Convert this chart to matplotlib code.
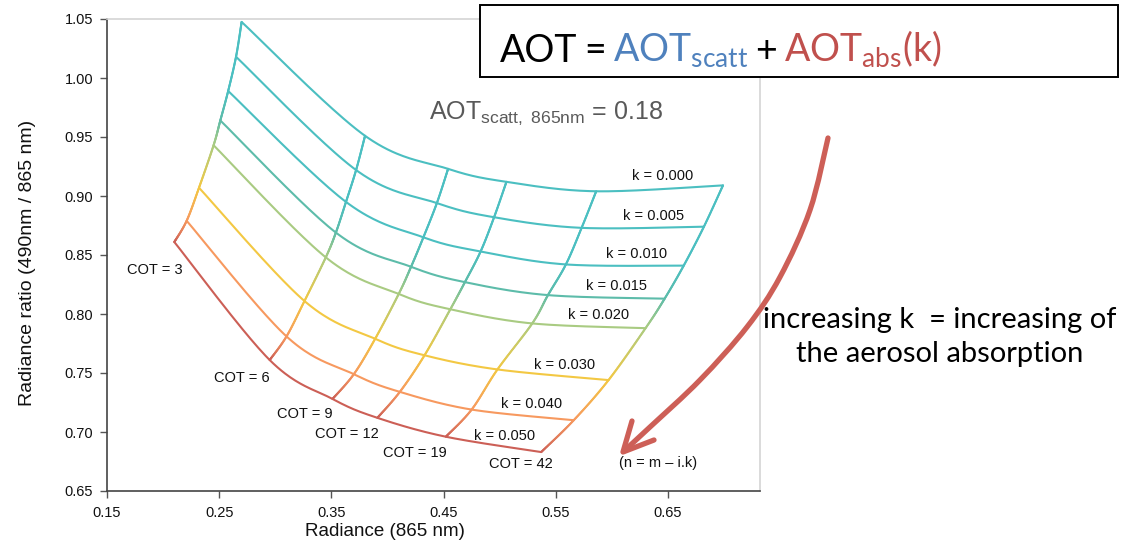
import numpy as np
import matplotlib
matplotlib.use("Agg")
import matplotlib.pyplot as plt
from matplotlib.bezier import BezierSegment
from matplotlib.collections import LineCollection
from matplotlib.patches import Rectangle, PathPatch
from matplotlib.path import Path
from matplotlib.colors import to_rgb

plt.rcParams['font.family'] = ['Liberation Sans', 'DejaVu Sans']

# Imaginary part of the refractive index (k) and cloud optical thickness (COT)
k_values = [0.000, 0.005, 0.010, 0.015, 0.020, 0.030, 0.040, 0.050]
cot_values = [3, 6, 9, 12, 19, 42]

# Radiance at 865 nm: one row per k, one column per COT
radiance_865 = [
    [0.270, 0.380, 0.454, 0.506, 0.586, 0.699],
    [0.265, 0.372, 0.444, 0.495, 0.573, 0.682],
    [0.258, 0.363, 0.432, 0.483, 0.559, 0.664],
    [0.251, 0.354, 0.421, 0.469, 0.543, 0.647],
    [0.245, 0.345, 0.410, 0.456, 0.529, 0.630],
    [0.232, 0.326, 0.389, 0.433, 0.498, 0.597],
    [0.221, 0.310, 0.370, 0.411, 0.475, 0.566],
    [0.210, 0.295, 0.351, 0.391, 0.452, 0.537],
]

# Radiance ratio 490 nm / 865 nm: one row per k, one column per COT
radiance_ratio = [
    [1.0475, 0.951, 0.923, 0.912, 0.904, 0.909],
    [1.018, 0.922, 0.894, 0.882, 0.873, 0.874],
    [0.989, 0.895, 0.865, 0.853, 0.842, 0.841],
    [0.964, 0.869, 0.840, 0.827, 0.816, 0.813],
    [0.943, 0.848, 0.817, 0.804, 0.792, 0.788],
    [0.907, 0.811, 0.779, 0.765, 0.753, 0.744],
    [0.879, 0.781, 0.749, 0.734, 0.719, 0.710],
    [0.861, 0.761, 0.728, 0.712, 0.696, 0.683],
]

aot_scatt = 0.18

k_colors = ['#4bbfc1', '#4bbfc1', '#4bbfc1', '#5dbcaa', '#a9cb82',
            '#f3c843', '#f7995f', '#cc5f56']

x_ticks = [0.15, 0.25, 0.35, 0.45, 0.55, 0.65]
y_ticks = [0.65, 0.70, 0.75, 0.80, 0.85, 0.90, 0.95, 1.00, 1.05]

# Label placement (data coordinates)
k_label_pos = [(0.645, 0.917), (0.637, 0.883), (0.622, 0.851), (0.604, 0.824),
               (0.588, 0.799), (0.558, 0.757), (0.528, 0.724), (0.504, 0.697)]
cot_label_pos = [(0.193, 0.837), (0.270, 0.746), (0.326, 0.715),
                 (0.364, 0.698), (0.424, 0.682), (0.519, 0.673)]


def smooth_segments(xs, ys):
    """Catmull-Rom style cubic Bezier segments through the given points."""
    pts = np.column_stack([xs, ys]).astype(float)
    n = len(pts)
    segs = []
    for i in range(n - 1):
        p0 = pts[max(i - 1, 0)]
        p1 = pts[i]
        p2 = pts[i + 1]
        p3 = pts[min(i + 2, n - 1)]
        c1 = p1 + (p2 - p0) / 6.0
        c2 = p2 - (p3 - p1) / 6.0
        segs.append(BezierSegment(np.array([p1, c1, c2, p2])))
    return segs


W, H = 1128, 544
fig = plt.figure(figsize=(W / 100, H / 100), dpi=100)
ax = fig.add_axes([107 / W, 53 / H, 653 / W, 472 / H])
ax.set_xlim(0.15, 0.732)
ax.set_ylim(0.65, 1.05)

rad = np.array(radiance_865)
rat = np.array(radiance_ratio)
t = np.linspace(0, 1, 40)
lw = 1.5

# constant-k curves
for i, k in enumerate(k_values):
    pts = np.vstack([seg(t) for seg in smooth_segments(rad[i], rat[i])])
    ax.plot(pts[:, 0], pts[:, 1], color=k_colors[i], lw=lw,
            solid_capstyle='round', zorder=3)

# constant-COT curves, coloured with a gradient along k
for j, cot in enumerate(cot_values):
    segs = smooth_segments(rad[:, j], rat[:, j])
    lines, cols = [], []
    for i, seg in enumerate(segs):
        pts = seg(t)
        c0 = np.array(to_rgb(k_colors[i]))
        c1 = np.array(to_rgb(k_colors[i + 1]))
        for m in range(len(t) - 1):
            lines.append(pts[m:m + 2])
            f = 0.5 * (t[m] + t[m + 1])
            cols.append(c0 * (1 - f) + c1 * f)
    lc = LineCollection(lines, colors=cols, linewidths=lw,
                        capstyle='round', zorder=3)
    ax.add_collection(lc)

# labels
for (x, y), k in zip(k_label_pos, k_values):
    ax.text(x, y, f'k = {k:.3f}', fontsize=10.5, ha='center', va='center',
            color='#111111', zorder=4)
for (x, y), c in zip(cot_label_pos, cot_values):
    ax.text(x, y, f'COT = {c}', fontsize=10.5, ha='center', va='center',
            color='#111111', zorder=4)
ax.text(0.641, 0.674, '(n = m \u2013 i.k)', fontsize=10.5, ha='center',
        va='center', color='#111111', zorder=4)
ax.text(0.437, 0.965,
        r'AOT$_{\mathregular{scatt,}\;\mathregular{865nm}}$'
        + f' = {aot_scatt:.2f}',
        fontsize=18, color='#595959', ha='left', va='baseline')

# axes styling
ax.set_xticks(x_ticks)
ax.set_xticklabels([f'{v:.2f}' for v in x_ticks])
ax.set_yticks(y_ticks)
ax.set_yticklabels([f'{v:.2f}' for v in y_ticks])
ax.tick_params(direction='out', length=5, width=1, color='#555555',
               labelsize=10.5, labelcolor='#111111', pad=5)
ax.tick_params(axis='x', pad=6)
for side in ('left', 'bottom'):
    ax.spines[side].set_color('#444444')
    ax.spines[side].set_linewidth(1.2)
for side in ('top', 'right'):
    ax.spines[side].set_color('#d4d4d4')
    ax.spines[side].set_linewidth(1.2)
ax.set_xlabel('Radiance (865 nm)', fontsize=13.5, color='#111111')
ax.set_ylabel('Radiance ratio (490nm / 865 nm)', fontsize=14, color='#111111')
ax.xaxis.set_label_coords(0.426, -0.068)
ax.yaxis.set_label_coords(-0.108, 0.483)

# equation box
fig.add_artist(Rectangle((480 / W, 1 - 77 / H), 638 / W, 72 / H,
                         transform=fig.transFigure, facecolor='white',
                         edgecolor='black', lw=1.4, zorder=5))
pieces = [('AOT', 'black'), ('=', 'black'),
          (r'AOT$_{\mathregular{scatt}}$', '#4f81bd'), ('+', 'black'),
          (r'AOT$_{\mathregular{abs}}$(k)', '#c0504d')]
renderer = fig.canvas.get_renderer()
x_px = 500
for txt, col in pieces:
    tx = fig.text(x_px / W, 1 - 62 / H, txt, fontsize=27, color=col,
                  family=['Lato', 'DejaVu Sans'], ha='left', va='baseline',
                  zorder=6)
    x_px += tx.get_window_extent(renderer).width + 7

fig.text(940 / W, 1 - 337 / H,
         'increasing k  = increasing of\nthe aerosol absorption',
         fontsize=21, family=['Lato', 'DejaVu Sans'], ha='center',
         va='center', linespacing=1.35, color='black')

# curved arrow
arrow_px = [(828, 138), (810, 210), (780, 277), (747, 327), (700, 380),
            (650, 427), (624, 451)]
ax_pts = np.array([(x / W, 1 - y / H) for x, y in arrow_px])
verts, codes = [tuple(ax_pts[0])], [Path.MOVETO]
for seg in smooth_segments(ax_pts[:, 0], ax_pts[:, 1]):
    cp = seg.control_points
    verts += [tuple(cp[1]), tuple(cp[2]), tuple(cp[3])]
    codes += [Path.CURVE4] * 3
arrow_col = '#cd5f57'
fig.add_artist(PathPatch(Path(verts, codes), transform=fig.transFigure,
                         fill=False, edgecolor=arrow_col, lw=3.8,
                         capstyle='round', zorder=4))
head = [(632, 421), (623, 452), (654, 440)]
head_f = [(x / W, 1 - y / H) for x, y in head]
fig.add_artist(PathPatch(Path(head_f, [Path.MOVETO, Path.LINETO, Path.LINETO]),
                         transform=fig.transFigure, fill=False,
                         edgecolor=arrow_col, lw=3.8, capstyle='round',
                         joinstyle='round', zorder=4))

fig.savefig('out.png', dpi=100)
